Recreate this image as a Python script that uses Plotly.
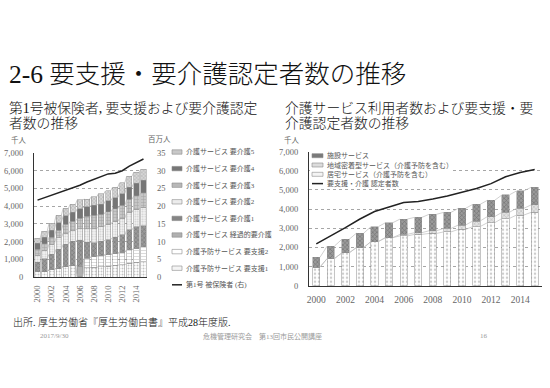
import plotly.graph_objects as go

W, H = 550, 388
FONT = "Liberation Serif, Noto Sans CJK JP"

# ---------------- data ----------------
years = list(range(2000, 2016))
year_ticks = list(range(2000, 2015, 2))

# left chart: certified persons by care level (thousand persons)
shien1 = [291, 322, 398, 505, 601, 674, 5, 527, 545, 575, 604, 666, 692, 774, 824, 874]
shien2 = [0, 0, 0, 0, 0, 0, 1, 523, 617, 654, 654, 668, 714, 759, 805, 839]
keika = [0, 0, 0, 0, 0, 0, 600, 39, 0, 0, 0, 0, 0, 0, 0, 0]
kaigo1 = [551, 709, 891, 1070, 1243, 1332, 1480, 876, 777, 788, 852, 907, 967, 1125, 1196, 1176]
kaigo2 = [394, 490, 571, 641, 629, 614, 660, 760, 802, 808, 854, 897, 949, 985, 1010, 1062]
kaigo3 = [317, 357, 394, 431, 499, 527, 560, 701, 738, 711, 713, 709, 722, 737, 754, 792]
kaigo4 = [339, 365, 394, 423, 473, 497, 560, 545, 572, 580, 630, 636, 668, 698, 712, 730]
kaigo5 = [290, 341, 381, 414, 429, 465, 483, 430, 473, 575, 563, 592, 619, 613, 617, 597]
# first-category insured persons (million, right axis)
hihokensha = [21.7, 22.4, 23.1, 23.8, 24.4, 25.1, 25.9, 26.8, 27.6, 28.4, 29.1, 29.3, 30.0, 31.3, 32.4, 33.3]

left_names = ["介護予防サービス 要支援1", "介護予防サービス 要支援2", "介護サービス 経過的要介護",
              "介護サービス 要介護1", "介護サービス 要介護2", "介護サービス 要介護3",
              "介護サービス 要介護4", "介護サービス 要介護5"]
left_line_name = "第1号 被保険者 (右)"

# right chart: service users (thousand persons)
kyotaku = [970, 1420, 1710, 1990, 2300, 2510, 2600, 2680, 2730, 2810, 2940, 3090, 3290, 3510, 3690, 3830]
chiiki = [0, 0, 0, 0, 0, 0, 80, 90, 140, 180, 230, 290, 320, 320, 350, 390]
shisetsu = [510, 650, 710, 750, 780, 780, 800, 800, 860, 840, 870, 870, 850, 910, 910, 920]
right_names = ["居宅サービス（介護予防を含む）", "地域密着型サービス（介護予防を含む）", "施設サービス"]
right_line_name = "要支援・介護 認定者数"

left_series = [shien1, shien2, keika, kaigo1, kaigo2, kaigo3, kaigo4, kaigo5]
nintei_total = [sum(v) for v in zip(*left_series)]

# ---------------- styles ----------------
left_styles = [
    dict(color="#ffffff", shape=".", fg="#8a8a8a", size=3, sol=0.35),
    dict(color="#ffffff", shape="-", fg="#b0b0b0", size=3, sol=0.3),
    dict(color="#b0b0b0", shape="", fg="#b0b0b0", size=3, sol=0.3),
    dict(color="#9a9a9a", shape="x", fg="#555555", size=3, sol=0.35),
    dict(color="#f4f4f4", shape=".", fg="#a0a0a0", size=2.5, sol=0.35),
    dict(color="#c6c6c6", shape="+", fg="#808080", size=3, sol=0.3),
    dict(color="#767676", shape="", fg="#767676", size=3, sol=0.3),
    dict(color="#d6d6d6", shape="x", fg="#909090", size=2.5, sol=0.35),
]
left_swatch = ["#f4f4f4", "#ffffff", "#b0b0b0", "#858585", "#ececec", "#b8b8b8", "#767676", "#c8c8c8"]
right_styles = [
    dict(color="#ffffff", shape=".", fg="#9a9a9a", size=4, sol=0.3),
    dict(color="#e2e2e2", shape="x", fg="#8a8a8a", size=3, sol=0.3),
    dict(color="#9a9a9a", shape="x", fg="#444444", size=3, sol=0.35),
]
right_swatch = ["#f4f4f4", "#dcdcdc", "#7a7a7a"]

WL, WR = 0.74, 0.5


def px_x(x):
    return x / W


def px_y(y):
    return 1 - y / H


def series_lines(cum, w):
    xs, ys = [], []
    for i in range(len(years) - 1):
        xs += [years[i] + w / 2, years[i + 1] - w / 2, None]
        ys += [cum[i], cum[i + 1], None]
    return xs, ys


fig = go.Figure()

# left stacked bars
cum = [0] * len(years)
cums_left = []
for vals, name, st in zip(left_series, left_names, left_styles):
    fig.add_trace(go.Bar(
        x=years, y=vals, name=name, width=WL, xaxis="x", yaxis="y",
        marker=dict(color=st["color"], line=dict(color="#8c8c8c", width=0.5),
                    pattern=dict(shape=st["shape"], fgcolor=st["fg"], bgcolor=st["color"],
                                 size=st["size"], solidity=st["sol"])),
        showlegend=False, hoverinfo="skip"))
    cum = [a + b for a, b in zip(cum, vals)]
    cums_left.append(cum)
for c in cums_left:
    xs, ys = series_lines(c, WL)
    fig.add_trace(go.Scatter(x=xs, y=ys, mode="lines", xaxis="x", yaxis="y",
                             line=dict(color="#b4b4b4", width=0.7),
                             showlegend=False, hoverinfo="skip"))
fig.add_trace(go.Scatter(x=years, y=hihokensha, mode="lines", name=left_line_name,
                         xaxis="x", yaxis="y2", line=dict(color="#222222", width=1.5),
                         showlegend=False, hoverinfo="skip"))

# right stacked bars
cum = [0] * len(years)
cums_right = []
for vals, name, st in zip([kyotaku, chiiki, shisetsu], right_names, right_styles):
    fig.add_trace(go.Bar(
        x=years, y=vals, name=name, width=WR, xaxis="x2", yaxis="y3",
        marker=dict(color=st["color"], line=dict(color="#8c8c8c", width=0.5),
                    pattern=dict(shape=st["shape"], fgcolor=st["fg"], bgcolor=st["color"],
                                 size=st["size"], solidity=st["sol"])),
        showlegend=False, hoverinfo="skip"))
    cum = [a + b for a, b in zip(cum, vals)]
    cums_right.append(cum)
for c in cums_right:
    xs, ys = series_lines(c, WR)
    fig.add_trace(go.Scatter(x=xs, y=ys, mode="lines", xaxis="x2", yaxis="y3",
                             line=dict(color="#bcbcbc", width=0.7),
                             showlegend=False, hoverinfo="skip"))
fig.add_trace(go.Scatter(x=years, y=nintei_total, mode="lines", name=right_line_name,
                         xaxis="x2", yaxis="y3", line=dict(color="#222222", width=1.5),
                         showlegend=False, hoverinfo="skip"))

tickfont = dict(family=FONT, size=8.5, color="#666666")
grid = dict(showgrid=True, gridcolor="#a6a6a6", griddash="dot", gridwidth=1, zeroline=False)

fig.update_layout(
    width=W, height=H, margin=dict(l=0, r=0, t=0, b=0, autoexpand=False),
    paper_bgcolor="white", plot_bgcolor="white",
    barmode="stack", showlegend=False, font=dict(family=FONT),
    xaxis=dict(domain=[px_x(34), px_x(147)], range=[1999.5, 2015.5], anchor="y",
               tickvals=year_ticks, tickangle=-90, tickfont=tickfont, automargin=False,
               showline=True, linecolor="#333333", linewidth=1.2, showgrid=False,
               ticks="", ticklabelstandoff=4),
    yaxis=dict(domain=[px_y(277), px_y(153)], range=[0, 7000], anchor="x",
               tickvals=list(range(0, 7001, 1000)), tickformat=",", tickfont=tickfont,
               showline=True, linecolor="#333333", linewidth=1.2, ticks="", automargin=False,
               ticklabelstandoff=8, **grid),
    yaxis2=dict(overlaying="y", side="right", anchor="x", range=[0, 35], automargin=False,
                tickvals=list(range(0, 36, 5)), tickfont=tickfont, showgrid=False,
                zeroline=False, showline=False, ticks="", ticklabelstandoff=9),
    xaxis2=dict(domain=[px_x(309), px_x(542)], range=[1999.5, 2015.5], anchor="y3",
                tickvals=year_ticks, tickfont=dict(family=FONT, size=9.5, color="#666666"),
                showline=True, linecolor="#333333", linewidth=1.2, showgrid=False,
                ticks="", ticklabelstandoff=5, automargin=False),
    yaxis3=dict(domain=[px_y(285.7), px_y(151.7)], range=[0, 7000], anchor="x2",
                tickvals=list(range(0, 7001, 1000)), tickformat=",", tickfont=tickfont,
                showline=True, linecolor="#333333", linewidth=1.2, ticks="", automargin=False,
                ticklabelstandoff=8, **grid),
)

annotations = []
shapes = []


def text(x, y, s, size, color="#111111", anchor="left", weight=400):
    annotations.append(dict(x=px_x(x), y=px_y(y), xref="paper", yref="paper", text=s,
                            showarrow=False, xanchor=anchor, yanchor="middle",
                            font=dict(family=FONT, size=size, color=color, weight=weight)))


# titles
text(7, 74, "2-6 要支援・要介護認定者数の推移", 25.5, weight=300)
text(7, 108.5, "第1号被保険者, 要支援および要介護認定", 13.8, weight=300)
text(7, 123.5, "者数の推移", 13.8, weight=300)
text(283, 108.5, "介護サービス利用者数および要支援・要", 13.8, weight=300)
text(283, 123.5, "介護認定者数の推移", 13.8, weight=300)
text(9, 139.5, "千人", 7.5, "#666666")
text(146, 139.5, "百万人", 7.5, "#666666")
text(282, 140, "千人", 7.5, "#666666")
text(11, 321.5, "出所. 厚生労働省『厚生労働白書』平成28年度版.", 10, weight=300)
text(38, 336, "2017/9/30", 7, "#9a9a9a")
text(262, 336, "危機管理研究会　第13回市民公開講座", 7, "#9a9a9a", anchor="center")
text(478, 336, "16", 7, "#9a9a9a")

# left manual legend (top item = top of stack)
leg_items = list(zip(left_names, left_swatch))[::-1]
for i, (name, col) in enumerate(leg_items):
    yc = 152 + i * 16.6
    shapes.append(dict(type="rect", xref="paper", yref="paper",
                       x0=px_x(172), x1=px_x(182), y0=px_y(yc + 2.2), y1=px_y(yc - 2.2),
                       fillcolor=col, line=dict(color="#8c8c8c", width=0.6)))
    text(183.5, yc, name, 7, "#555555")
yc = 152 + len(leg_items) * 16.6
shapes.append(dict(type="line", xref="paper", yref="paper", x0=px_x(172), x1=px_x(182),
                   y0=px_y(yc), y1=px_y(yc), line=dict(color="#222222", width=1.5)))
text(183.5, yc, left_line_name, 7, "#555555")

# right manual legend (white box inside plot)
shapes.append(dict(type="rect", xref="paper", yref="paper", layer="above",
                   x0=px_x(310), x1=px_x(452), y0=px_y(188), y1=px_y(150),
                   fillcolor="white", line=dict(width=0)))
r_items = list(zip(right_names, right_swatch))[::-1]
for i, (name, col) in enumerate(r_items):
    yc = 155.7 + i * 9.3
    shapes.append(dict(type="rect", xref="paper", yref="paper", layer="above",
                       x0=px_x(312), x1=px_x(323), y0=px_y(yc + 2), y1=px_y(yc - 2),
                       fillcolor=col, line=dict(color="#8c8c8c", width=0.6)))
    text(324.5, yc, name, 7, "#555555")
yc = 155.7 + len(r_items) * 9.3
shapes.append(dict(type="line", xref="paper", yref="paper", layer="above",
                   x0=px_x(312), x1=px_x(323), y0=px_y(yc), y1=px_y(yc),
                   line=dict(color="#222222", width=1.5)))
text(324.5, yc, right_line_name, 7, "#555555")

fig.update_layout(annotations=annotations, shapes=shapes)
fig.write_html("out.html", config={"displayModeBar": False},
               post_script="document.body.style.margin='0';document.body.style.overflow='hidden';")
